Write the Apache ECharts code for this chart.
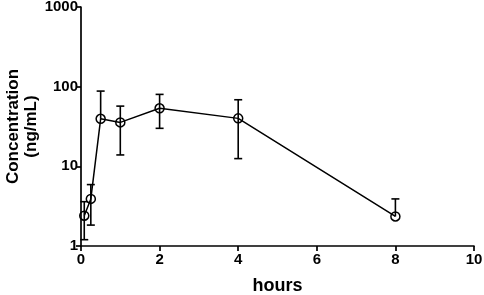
<!DOCTYPE html>
<html>
<head>
<meta charset="utf-8">
<script src="https://cdn.jsdelivr.net/npm/echarts@6/dist/echarts.min.js"></script>
<style>
  html, body { margin: 0; padding: 0; background: #fff; }
  #chart { width: 484px; height: 295px; }
</style>
</head>
<body>
<div id="chart"></div>
<script>
// sampling times (hours) and mean concentration (ng/mL)
const times = [0.083, 0.25, 0.5, 1, 2, 4, 8];
const means = [2.4, 3.9, 39.5, 35.6, 53.5, 40, 2.35];
// error bar ends; null = no bar drawn on that side
const upper = [3.6, 5.9, 88, 57, 80, 68.5, 3.9];
const lower = [1.2, 1.83, null, 13.9, 30, 12.5, null];

const xTicks = [0, 2, 4, 6, 8, 10];
const yTicks = [1, 10, 100, 1000];

const font = "'Liberation Sans', Arial, sans-serif";

const chart = echarts.init(document.getElementById("chart"));

const errData = times.map((t, i) => [t, means[i], upper[i], lower[i]]);

chart.setOption({
  animation: false,
  grid: { left: 81, right: 10, top: 7, bottom: 49, outerBoundsMode: "none", containLabel: false },
  xAxis: {
    type: "value",
    min: xTicks[0],
    max: xTicks[xTicks.length - 1],
    interval: 2,
    name: "hours",
    nameLocation: "middle",
    nameGap: 31,
    nameMoveOverlap: false,
    nameTextStyle: { fontFamily: font, fontWeight: "bold", fontSize: 18, color: "#000" },
    axisLine: { lineStyle: { color: "#000", width: 1.7 } },
    axisTick: { show: true, length: 5, lineStyle: { color: "#000", width: 1.7 } },
    axisLabel: { fontFamily: font, fontWeight: "bold", fontSize: 15, color: "#000", margin: 6 },
    splitLine: { show: false }
  },
  yAxis: {
    type: "log",
    logBase: 10,
    min: yTicks[0],
    max: yTicks[yTicks.length - 1],
    name: "Concentration\n(ng/mL)",
    nameLocation: "middle",
    nameRotate: 90,
    nameGap: 41,
    nameMoveOverlap: false,
    nameTextStyle: { fontFamily: font, fontWeight: "bold", fontSize: 17, color: "#000", lineHeight: 18 },
    axisLine: { show: true, lineStyle: { color: "#000", width: 1.7 } },
    axisTick: { show: true, length: 5, lineStyle: { color: "#000", width: 1.7 } },
    minorTick: { show: false },
    axisLabel: {
      fontFamily: font, fontWeight: "bold", fontSize: 15, color: "#000", margin: 3,
      formatter: function (v) { return String(Math.round(v)); }
    },
    splitLine: { show: false }
  },
  series: [
    {
      type: "custom",
      z: 1,
      data: errData,
      renderItem: function (params, api) {
        const x = api.value(0);
        const m = api.value(1);
        const hi = api.value(2);
        const lo = api.value(3);
        const pm = api.coord([x, m]);
        const children = [];
        const cap = 4;
        const style = { stroke: "#000", lineWidth: 1.6 };
        if (hi) {
          const ph = api.coord([x, hi]);
          children.push({ type: "line", shape: { x1: pm[0], y1: pm[1], x2: ph[0], y2: ph[1] }, style: style });
          children.push({ type: "line", shape: { x1: ph[0] - cap, y1: ph[1], x2: ph[0] + cap, y2: ph[1] }, style: style });
        }
        if (lo) {
          const pl = api.coord([x, lo]);
          children.push({ type: "line", shape: { x1: pm[0], y1: pm[1], x2: pl[0], y2: pl[1] }, style: style });
          children.push({ type: "line", shape: { x1: pl[0] - cap, y1: pl[1], x2: pl[0] + cap, y2: pl[1] }, style: style });
        }
        return { type: "group", children: children };
      }
    },
    {
      type: "line",
      z: 2,
      data: times.map((t, i) => [t, means[i]]),
      symbol: "circle",
      symbolSize: 9,
      lineStyle: { color: "#000", width: 1.5 },
      itemStyle: { color: "rgba(255,255,255,0)", borderColor: "#000", borderWidth: 1.5 }
    }
  ]
});
</script>
</body>
</html>
